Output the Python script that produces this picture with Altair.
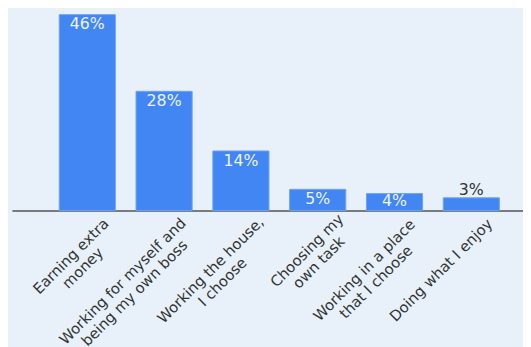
import altair as alt
import pandas as pd

categories = [
    "Earning extra\nmoney",
    "Working for myself and\nbeing my own boss",
    "Working the house,\nI choose",
    "Choosing my\nown task",
    "Working in a place\nthat I choose",
    "Doing what I enjoy",
]
values = [46, 28, 14, 5, 4, 3]

df = pd.DataFrame({"cat": categories, "value": values})

FONT = "DejaVu Sans"
BG = "#E8F1F9"
BLUE = "#4286F4"
DARK = "#333333"

x = alt.X(
    "cat:N",
    sort=None,
    title=None,
    axis=alt.Axis(labels=False, ticks=False, domainColor="#555555", domainWidth=1.5, title=None),
    scale=alt.Scale(paddingInner=0.269, paddingOuter=0.4615, align=0.667),
)
yscale = alt.Scale(domain=[0, 46], nice=False, zero=True)

base = alt.Chart(df)

bars = base.mark_bar(color=BLUE, stroke="#6FA2F7", strokeWidth=1).encode(
    x=x, y=alt.Y("value:Q", axis=None, scale=yscale)
)

inside = (
    base.transform_filter("datum.value >= 4")
    .transform_calculate(ly="max(datum.value - 2.3, datum.value / 2 + 0.3)", txt="datum.value + '%'")
    .mark_text(font=FONT, fontSize=16, color="#EEF4FF", baseline="middle")
    .encode(x=x, y=alt.Y("ly:Q", axis=None, scale=yscale), text="txt:N")
)

outside = (
    base.transform_filter("datum.value < 4")
    .transform_calculate(txt="datum.value + '%'")
    .mark_text(font=FONT, fontSize=16, color=DARK, baseline="alphabetic", dy=-3)
    .encode(x=x, y=alt.Y("value:Q", axis=None, scale=yscale), text="txt:N")
)

cat_labels = (
    base.transform_calculate(
        nl="indexof(datum.cat, '\\n')",
    )
    .transform_calculate(
        mx="datum.nl < 0 ? length(datum.cat) : max(datum.nl, length(datum.cat) - datum.nl - 1)"
    )
    .transform_calculate(hw="datum.mx * 4.0")
    .mark_text(
        font=FONT,
        fontSize=15,
        color=DARK,
        angle=315,
        align="center",
        baseline="middle",
        lineBreak="\n",
        lineHeight=17,
        dx=alt.expr("7.5 - datum.hw"),
        dy=21,
    )
    .encode(x=x, y=alt.Y(datum=0, axis=None, scale=yscale), text="cat:N")
)

chart = (
    alt.layer(bars, inside, outside, cat_labels)
    .properties(width=519, height=199, background=BG, padding={"left": 4, "top": 3, "right": 0, "bottom": 0})
    .configure_view(stroke=None)
)

chart.save("out.html", embed_options={"renderer": "svg", "actions": False})
